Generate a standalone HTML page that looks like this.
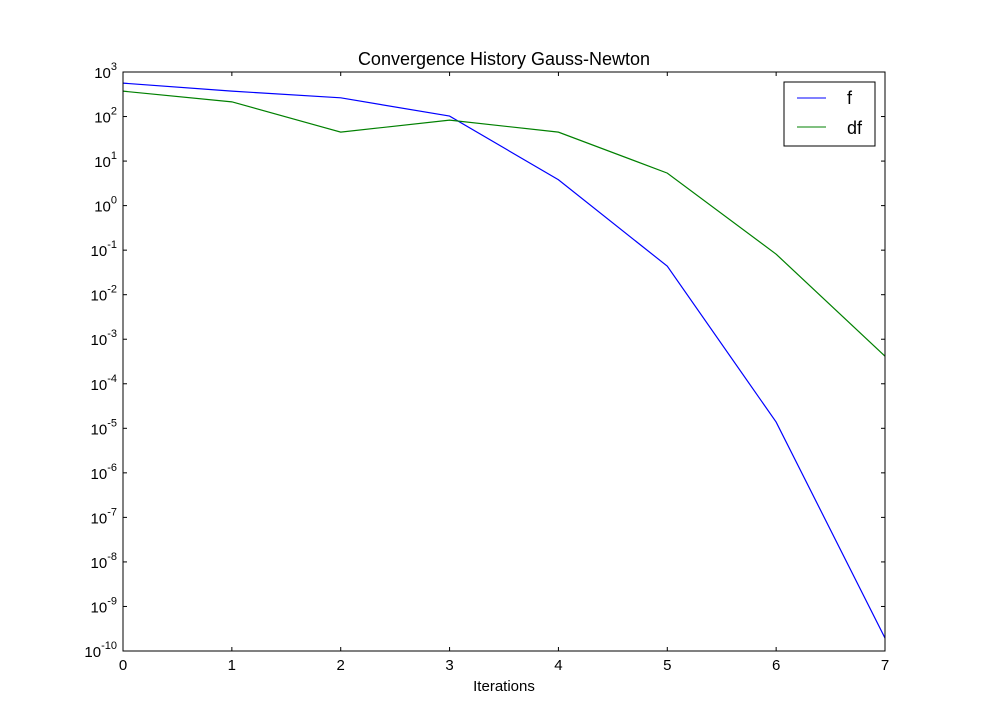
<!DOCTYPE html>
<html><head><meta charset="utf-8"><style>
body{margin:0;background:#fff;}
svg text{font-family:"Liberation Sans","DejaVu Sans",sans-serif;}
</style></head><body>
<svg id="chart" width="983" height="723" xmlns="http://www.w3.org/2000/svg">
<rect width="983" height="723" fill="#fff"/>
<text x="504" y="65" font-size="18" text-anchor="middle">Convergence History Gauss-Newton</text>
<text x="504" y="691" font-size="15" text-anchor="middle">Iterations</text>
<g id="ticks"></g>
<g id="series"></g>
<rect x="123" y="72" width="762" height="579" fill="none" stroke="#000" stroke-width="1"/>
<g>
<rect x="784" y="82" width="91" height="64" fill="#fff" stroke="#000"/>
<line x1="797" y1="98" x2="826" y2="98" stroke="#0000ff"/>
<text x="847" y="104" font-size="18">f</text>
<line x1="797" y1="127" x2="826" y2="127" stroke="#008000"/>
<text x="847" y="134" font-size="18">df</text>
</g>
</svg>
<script>
const iterations=[0,1,2,3,4,5,6,7];
const fLog=[2.75,2.57,2.42,2.01,0.58,-1.36,-4.86,-9.71];
const dfLog=[2.57,2.33,1.65,1.92,1.65,0.73,-1.09,-3.38];
const xTicks=[0,1,2,3,4,5,6,7];
const yTickExps=[3,2,1,0,-1,-2,-3,-4,-5,-6,-7,-8,-9,-10];
const NS="http://www.w3.org/2000/svg";
const X0=123,X1=885,Y0=651,Y1=72;
function xs(v){return X0+(v-0)/(7-0)*(X1-X0);}
function ys(e){return Y0-(e+10)/13*(Y0-Y1);}
function mk(tag,attrs,parent){const el=document.createElementNS(NS,tag);for(const k in attrs)el.setAttribute(k,attrs[k]);parent.appendChild(el);return el;}
const tg=document.getElementById('ticks');
xTicks.forEach(v=>{
 const x=xs(v);
 mk('line',{x1:x,y1:Y0,x2:x,y2:Y0-4,stroke:'#000'},tg);
 mk('line',{x1:x,y1:Y1,x2:x,y2:Y1+4,stroke:'#000'},tg);
 const t=mk('text',{x:x,y:Y0+19,'font-size':15,'text-anchor':'middle'},tg);
 
 
 t.textContent=v;
});
yTickExps.forEach(e=>{
 const y=ys(e);
 mk('line',{x1:X0,y1:y,x2:X0+4,y2:y,stroke:'#000'},tg);
 mk('line',{x1:X1,y1:y,x2:X1-4,y2:y,stroke:'#000'},tg);
 const t=mk('text',{x:X0-6,y:y+6,'font-size':15,'text-anchor':'end'},tg);
 
 
 const b=document.createElementNS(NS,'tspan');b.textContent='10';t.appendChild(b);
 const s=document.createElementNS(NS,'tspan');s.setAttribute('dy','-8');s.setAttribute('font-size','11');s.textContent=e;t.appendChild(s);
 // shift so exponent sits at right edge
 t.setAttribute('text-anchor','end');
});
const sg=document.getElementById('series');
function line(vals,color,name){
 const p=mk('polyline',{points:vals.map((v,i)=>xs(iterations[i])+','+ys(v)).join(' '),fill:'none',stroke:color,'stroke-width':1.2},sg);
 
 
}
line(fLog,'#0000ff','series-f-line');
line(dfLog,'#008000','series-df-line');
</script>
</body></html>
